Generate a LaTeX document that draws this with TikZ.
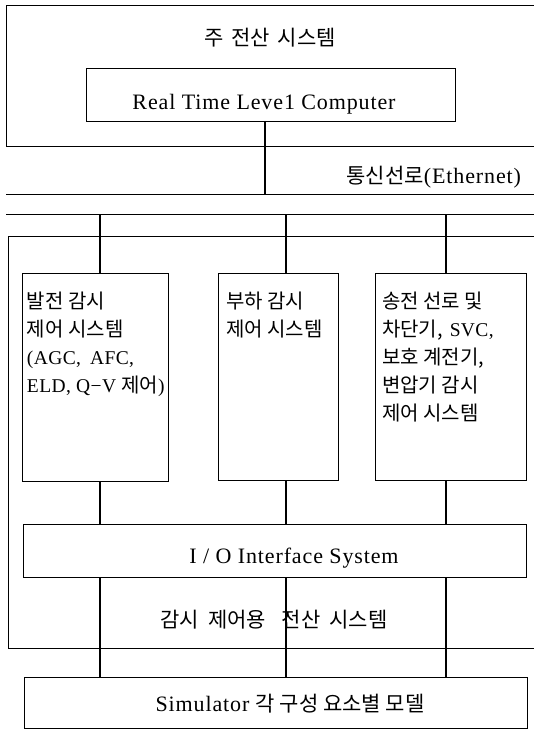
\documentclass[tikz,border=0pt]{standalone}
\usepackage{fontspec}
\setmainfont{Liberation Serif}
\newfontfamily\kr{Noto Sans CJK KR}
\newcommand\K[1]{{\kr #1}}
\newcommand\KB[1]{{\kr\fontsize{20pt}{28pt}\selectfont #1}}
\begin{document}
\begin{tikzpicture}[x=1pt,y=-1pt,
  frame/.style={line width=0.8pt},
  box/.style={draw,line width=0.8pt,rectangle,inner sep=0pt,outer sep=0pt},
  conn/.style={line width=1.2pt},
  big/.style={font=\fontsize{22pt}{26pt}\selectfont\addfontfeatures{LetterSpace=4}},
  kbig/.style={font=\fontsize{21pt}{26pt}\selectfont},
  small/.style={font=\fontsize{19.5pt}{28pt}\selectfont\addfontfeatures{LetterSpace=2}},
  every node/.style={inner sep=0pt,outer sep=0pt}]
\useasboundingbox (0,0) rectangle (534,730);

% frames and buses
\draw[frame] (534,5) -- (6,5) -- (6,146) -- (534,146);
\draw[frame] (6,194) -- (534,194);
\draw[frame] (6,214) -- (534,214);
\draw[frame] (534,236) -- (8,236) -- (8,648) -- (534,648);
\coordinate (eth) at (0,194);
\coordinate (bus) at (0,214);
\coordinate (colA) at (265,0);
\coordinate (colB) at (100,0);
\coordinate (colC) at (286,0);
\coordinate (colD) at (446,0);

% texts in top frame
\node[kbig] (title) at (270,38) {\K{주\hspace{8pt}전산\hspace{8pt}시스템}};
\node[box,minimum width=369,minimum height=53] (rt) at (270.5,94.5) {};
\node[big,anchor=base] (rttext) at (264,110) {Real Time Leve1 Computer};
\node[big,anchor=base east] (ethlabel) at (521,183) {\K{\fontsize{21pt}{26pt}\selectfont 통신선로}(Ethernet)};

% subsystem boxes
\node[box,minimum width=146,minimum height=208] (b1) at (95,377) {};
\node[box,minimum width=120,minimum height=207] (b2) at (278,376.5) {};
\node[box,minimum width=151,minimum height=207] (b3) at (450.5,376.5) {};

\node[small,anchor=north west,align=left] (t1) at (27,292)
  {\KB{발전 감시}\\
   \KB{제어 시스템}\\
   (AGC,\hspace{9pt}AFC,\\
   ELD, Q−V \KB{제어})};
\node[small,anchor=north west,align=left] (t2) at (226,292)
  {\KB{부하 감시}\\
   \KB{제어 시스템}};
\node[small,anchor=north west,align=left] (t3) at (382,292)
  {\KB{송전 선로 및}\\
   \KB{차단기,}\hspace{7pt}SVC,\\
   \KB{보호 계전기,}\\
   \KB{변압기 감시}\\
   \KB{제어 시스템}};

% I/O and simulator
\node[box,minimum width=503,minimum height=53] (io) at (274.5,550.5) {};
\node[big,anchor=base] (iotext) at (294,563) {I / O Interface System};
\node[kbig] (monlabel) at (274,620) {\K{감시\hspace{9pt}제어용\hspace{16pt}전산\hspace{9pt}시스템}};
\node[box,minimum width=503,minimum height=51] (sim) at (275.5,702.5) {};
\node[big,anchor=base] (simtext) at (290,711) {Simulator \K{\fontsize{21pt}{26pt}\selectfont 각 구성 요소별 모델}};

% connectors
\draw[conn] (rt.south -| colA) -- (eth -| colA);
\foreach \b/\c in {b1/colB,b2/colC,b3/colD}{
  \draw[conn] (bus -| \c) -- (\b.north -| \c);
  \draw[conn] (\b.south -| \c) -- (io.north -| \c);
  \draw[conn] (io.south -| \c) -- (sim.north -| \c);
}
\end{tikzpicture}
\end{document}
